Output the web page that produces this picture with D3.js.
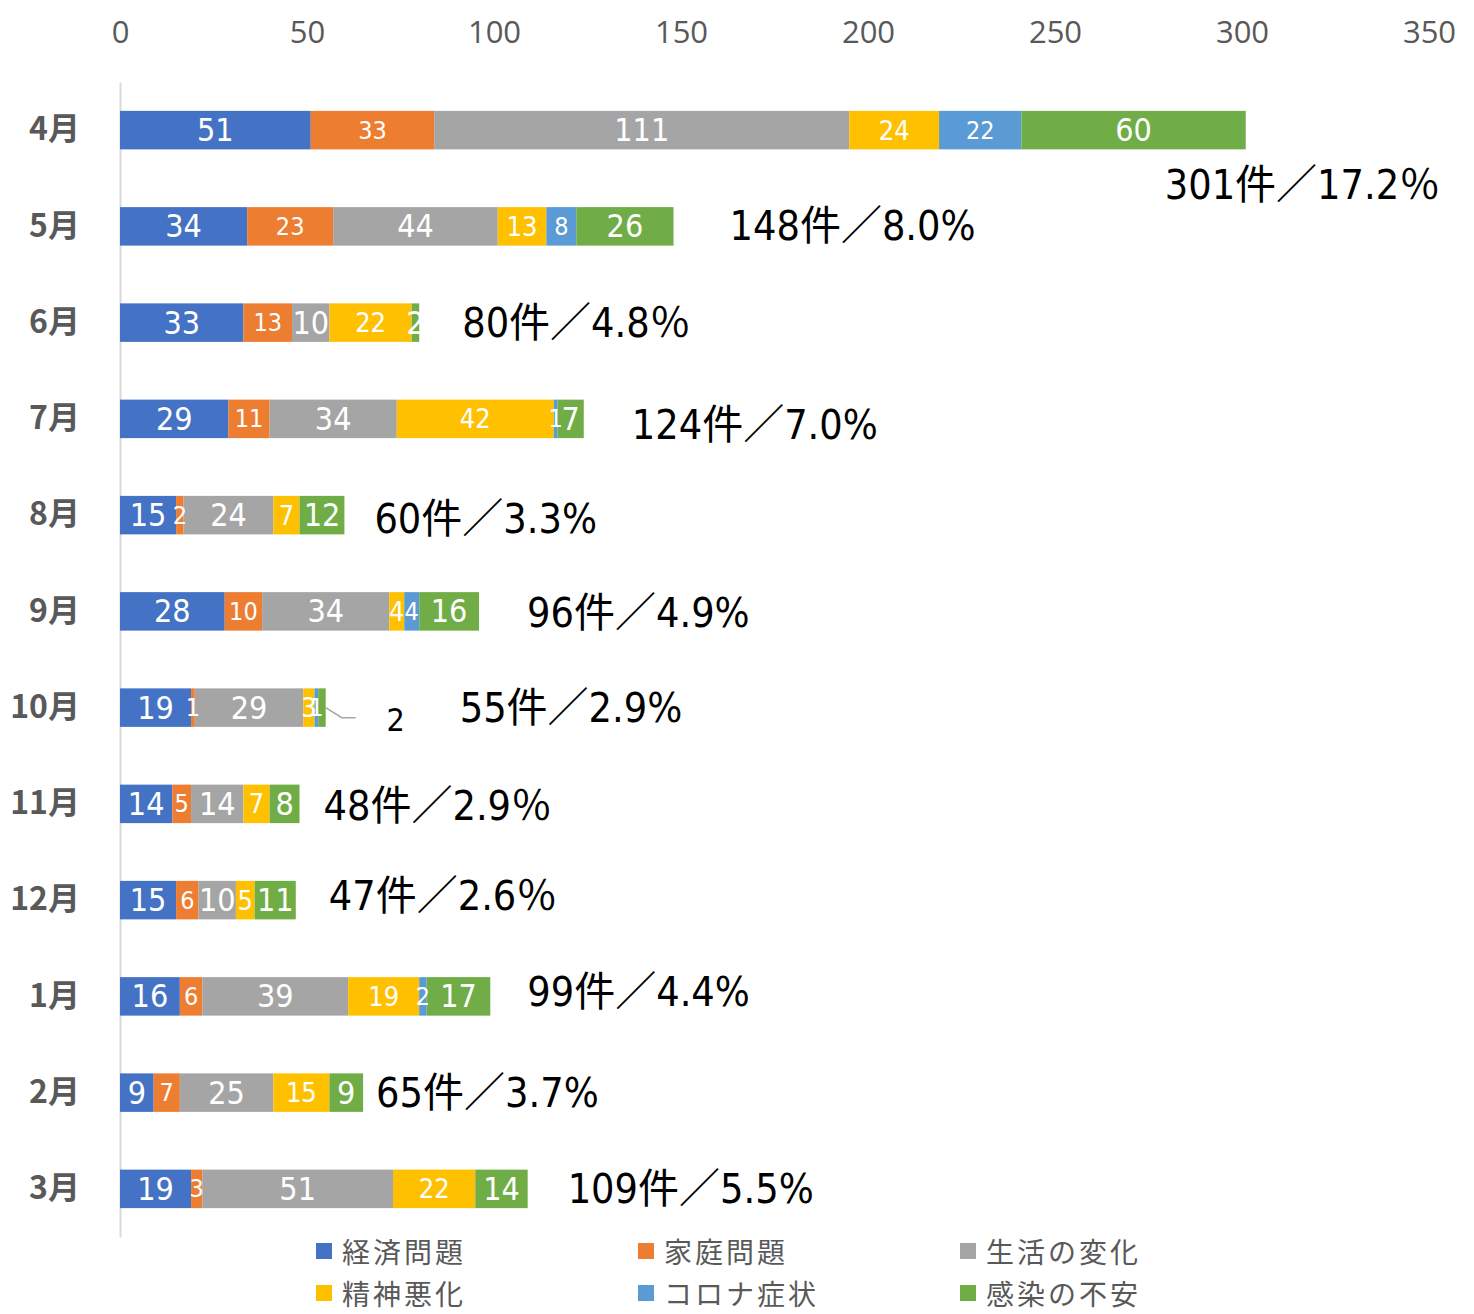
<!DOCTYPE html>
<html>
<head>
<meta charset="utf-8">
<script src="https://cdn.jsdelivr.net/npm/d3@7"></script>
<style>
  body { margin: 0; background: #fff; }
  svg text { font-family: "Liberation Sans Narrow", "DejaVu Sans Condensed", "Noto Sans CJK JP", sans-serif; }
</style>
</head>
<body>
<div id="chart"></div>
<script>
// months (top to bottom)
var months = ["4月", "5月", "6月", "7月", "8月", "9月", "10月", "11月", "12月", "1月", "2月", "3月"];

// series names
var seriesNames = ["経済問題", "家庭問題", "生活の変化", "精神悪化", "コロナ症状", "感染の不安"];

// values per series, one per month
var keizai   = [51, 34, 33, 29, 15, 28, 19, 14, 15, 16, 9, 19];
var katei    = [33, 23, 13, 11, 2, 10, 1, 5, 6, 6, 7, 3];
var seikatsu = [111, 44, 10, 34, 24, 34, 29, 14, 10, 39, 25, 51];
var seishin  = [24, 13, 22, 42, 7, 4, 3, 7, 5, 19, 15, 22];
var corona   = [22, 8, 0, 1, 0, 4, 1, 0, 0, 2, 0, 0];
var kansen   = [60, 26, 2, 7, 12, 16, 2, 8, 11, 17, 9, 14];

// share of all consultations, as printed
var shares = ["17.2％", "8.0%", "4.8％", "7.0%", "3.3%", "4.9%", "2.9%", "2.9％", "2.6％", "4.4%", "3.7%", "5.5%"];

var xTicks = [0, 50, 100, 150, 200, 250, 300, 350];

// layout settings (not data)
var colors = ["#4472C4", "#ED7D31", "#A5A5A5", "#FFC000", "#5B9BD5", "#70AD47"];
var segFont = [32, 25, 32, 27, 25, 32];
// manual placement of total labels, px from bar end
var totalDx = [-81, 56, 43, 48, 30, 48, 134, 24, 33, 37, 13, 40];
var totalDy = [55, 0, 0, 6, 4, 2, 0, 2, -4, -4, 0, 0];

var width = 1474, height = 1314;

var allSeries = [keizai, katei, seikatsu, seishin, corona, kansen];

var rows = months.map(function(m, i) {
  var r = { month: m };
  seriesNames.forEach(function(s, j) { r[s] = allSeries[j][i]; });
  r.total = d3.sum(allSeries, function(a) { return a[i]; });
  return r;
});

var stack = d3.stack().keys(seriesNames)(rows);

var x = d3.scaleLinear()
  .domain([0, 350])
  .range([120, 1429]);

var y = d3.scaleBand()
  .domain(months)
  .range([82, 1237])
  .paddingInner(0.6)
  .paddingOuter(0.3);

var svg = d3.select("#chart").append("svg")
  .attr("width", width)
  .attr("height", height);

//top axis labels
var xAxis = svg.append("g")
  .attr("transform", "translate(0,43)")
  .call(d3.axisTop(x).tickValues(xTicks).tickSize(0).tickPadding(0));
xAxis.select(".domain").remove();
xAxis.selectAll("text")
  .attr("fill", "#595959")
  .style("font-size", "31px")
  .style("font-family", "'Open Sans', 'Noto Sans', sans-serif");

//left axis line + month labels
var yAxis = svg.append("g")
  .attr("transform", "translate(" + x(0) + ",0)")
  .call(d3.axisLeft(y).tickSize(0).tickPadding(40));
yAxis.select(".domain").attr("stroke", "#D9D9D9").attr("stroke-width", 2);
yAxis.selectAll("text")
  .attr("fill", "#595959")
  .style("font-size", "32px")
  .style("font-weight", "bold")
  .style("font-family", "'Noto Sans CJK JP', sans-serif");

//bars
var layers = svg.selectAll("g.layer")
  .data(stack)
  .enter().append("g")
  .attr("class", "layer")
  .attr("fill", function(d, i) { return colors[i]; });

layers.selectAll("rect")
  .data(function(d) { return d; })
  .enter().append("rect")
  .attr("x", function(d) { return x(d[0]); })
  .attr("y", function(d) { return y(d.data.month); })
  .attr("width", function(d) { return x(d[1]) - x(d[0]); })
  .attr("height", y.bandwidth());

//segment labels
stack.forEach(function(layer, li) {
  svg.append("g").selectAll("text")
    .data(layer.filter(function(d) {
      // 10月 感染の不安 is called out outside the bar
      return d[1] - d[0] > 0 && !(li === 5 && d.data.month === "10月");
    }))
    .enter().append("text")
    .attr("x", function(d) { return (x(d[0]) + x(d[1])) / 2; })
    .attr("y", function(d) { return y(d.data.month) + y.bandwidth() / 2; })
    .attr("text-anchor", "middle")
    .attr("dominant-baseline", "central")
    .attr("fill", "#fff")
    .style("font-size", segFont[li] + "px")
    .text(function(d) { return d[1] - d[0]; });
});

//callout for 10月 感染の不安
var oct = stack[5][6];
var ox = x(oct[1]), oy = y("10月") + y.bandwidth() / 2;
svg.append("path")
  .attr("d", "M" + ox + "," + oy + "L" + (ox + 16) + "," + (oy + 10) + "L" + (ox + 30) + "," + (oy + 10))
  .attr("fill", "none")
  .attr("stroke", "#A5A5A5")
  .attr("stroke-width", 1.5);
svg.append("text")
  .attr("x", ox + 70)
  .attr("y", oy + 12)
  .attr("text-anchor", "middle")
  .attr("dominant-baseline", "central")
  .attr("fill", "#000")
  .style("font-size", "32px")
  .text(oct[1] - oct[0]);

//total labels
svg.append("g").selectAll("text")
  .data(rows)
  .enter().append("text")
  .attr("x", function(d, i) { return x(d.total) + totalDx[i]; })
  .attr("y", function(d, i) { return y(d.month) + y.bandwidth() / 2 + totalDy[i]; })
  .attr("dominant-baseline", "central")
  .attr("fill", "#000")
  .style("font-size", "41px")
  .text(function(d, i) { return d.total + "件／" + shares[i]; });

//legend
var legend = svg.append("g").selectAll("g")
  .data(seriesNames)
  .enter().append("g")
  .attr("transform", function(d, i) {
    return "translate(" + (316 + (i % 3) * 322) + "," + (1251 + Math.floor(i / 3) * 42) + ")";
  });
legend.append("rect")
  .attr("x", 0).attr("y", -8)
  .attr("width", 16).attr("height", 16)
  .attr("fill", function(d, i) { return colors[i]; });
legend.append("text")
  .attr("x", 26)
  .attr("dominant-baseline", "central")
  .attr("fill", "#595959")
  .style("font-size", "28px")
  .style("letter-spacing", "3px")
  .style("font-family", "'Noto Sans CJK JP', sans-serif")
  .text(function(d) { return d; });
</script>
</body>
</html>
